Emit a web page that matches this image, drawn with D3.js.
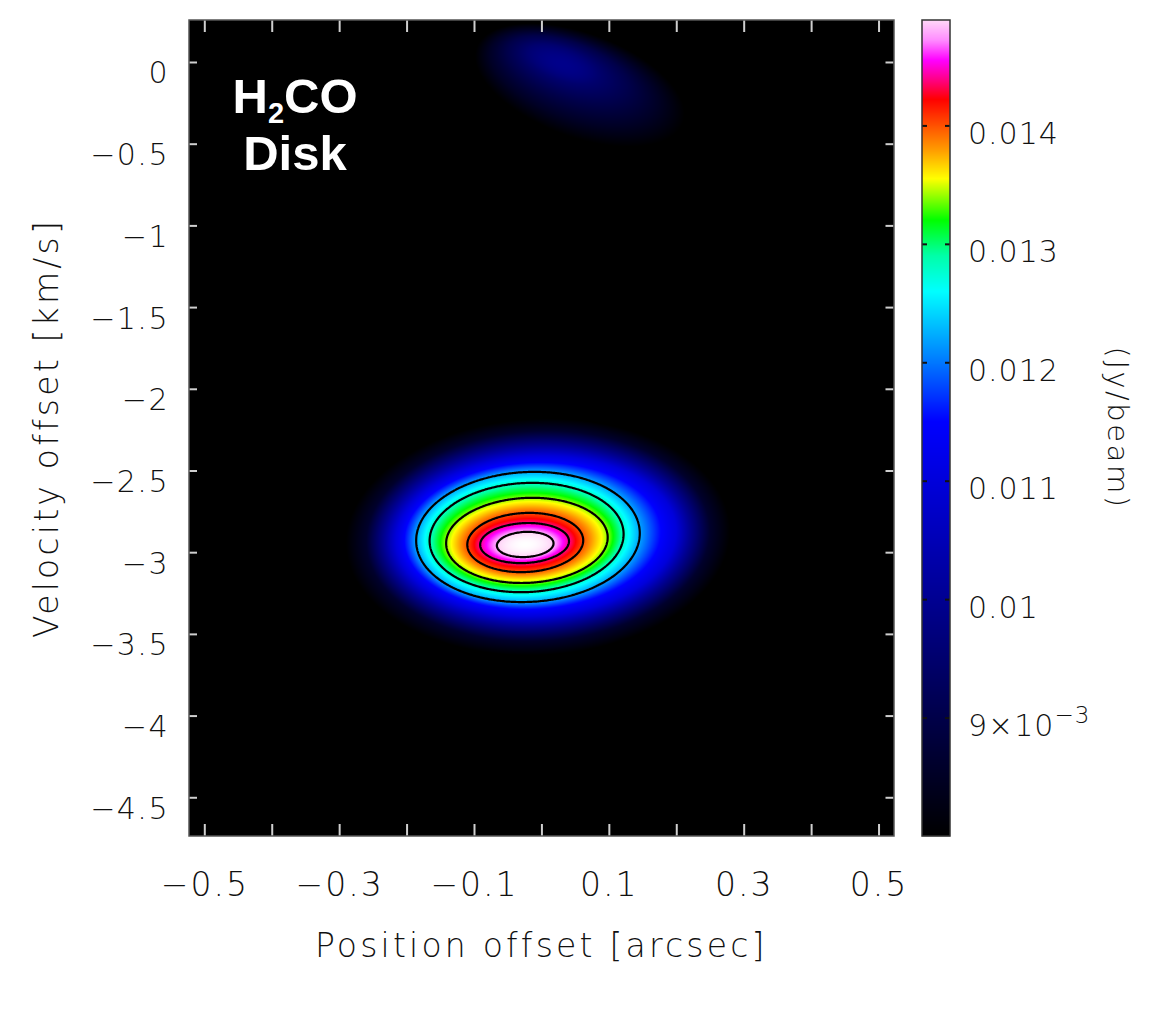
<!DOCTYPE html>
<html>
<head>
<meta charset="utf-8">
<script src="https://cdn.jsdelivr.net/npm/d3@7"></script>
<style>
body { margin: 0; background: #fff; }
</style>
</head>
<body>
<div id="cnt"></div>
<script>
const width = 1157
const height = 1009

// axis ticks
const xTicks = [-0.5, -0.4, -0.3, -0.2, -0.1, 0, 0.1, 0.2, 0.3, 0.4, 0.5]
const xTickLabels = [-0.5, -0.3, -0.1, 0.1, 0.3, 0.5]
const yTicks = [0, -0.5, -1, -1.5, -2, -2.5, -3, -3.5, -4, -4.5]
const cbTicks = [0.009, 0.010, 0.011, 0.012, 0.013, 0.014]
const cbTickLabels = ['9×10', '0.01', '0.011', '0.012', '0.013', '0.014']

// colour table (Jy/beam -> colour)
const cmapValues = [0.0080, 0.0115, 0.0120, 0.0126, 0.0129, 0.0132, 0.01355, 0.0138, 0.01422, 0.01438, 0.01455, 0.01472, 0.01489, 0.0153]
const cmapColors = ['#000000', '#0000ff', '#0078ff', '#00ffff', '#00ffa8', '#00ff00', '#ffff00', '#ff9900', '#ff0000', '#ff0080', '#ff00ff', '#ff8cff', '#ffd8f8', '#ffffff']

// main disk emission: iso-intensity ellipses (outer -> peak)
const diskLevels = [0.0080, 0.0086, 0.0100, 0.0110, 0.0116, 0.0122, 0.0128, 0.0134, 0.0140, 0.0144, 0.0148, 0.0153]
const diskHalfX  = [0.285, 0.255, 0.227, 0.208, 0.187, 0.166, 0.144, 0.120, 0.086, 0.066, 0.042, 0]
const diskHalfV  = [0.722, 0.643, 0.551, 0.490, 0.441, 0.398, 0.334, 0.260, 0.181, 0.122, 0.0765, 0]
const diskCenX   = [-0.005, -0.005, -0.007, -0.008, -0.014, -0.020, -0.022, -0.0215, -0.024, -0.025, -0.024, -0.024]
const diskCenV   = [-2.907, -2.901, -2.901, -2.901, -2.901, -2.907, -2.910, -2.928, -2.941, -2.944, -2.953, -2.956]
const diskTilt = -0.05

// faint blob near 0 km/s
const blobLevels = [0.0080, 0.0085, 0.0090, 0.0095, 0.0099]
const blobHalfX  = [0.163, 0.131, 0.096, 0.056, 0]
const blobHalfV  = [0.318, 0.245, 0.171, 0.098, 0]
const blobCenX   = [0.057, 0.048, 0.040, 0.031, 0.025]
const blobCenV   = [-0.141, -0.098, -0.049, -0.012, 0.0]
const blobTilt = 0.35

const contourLevels = [0.0122, 0.0128, 0.0134, 0.0140, 0.0144, 0.0148]

const plotLeft = 189, plotRight = 893.5, plotTop = 20, plotBottom = 836
const cbLeft = 922, cbRight = 950

const x = d3.scaleLinear().domain([-0.5227, 0.5222]).range([plotLeft, plotRight])
const y = d3.scaleLinear().domain([0.257, -4.737]).range([plotTop, plotBottom])
const cb = d3.scaleLinear().domain([0.008, 0.01489]).range([plotBottom, plotTop])
const color = d3.scaleLinear().domain(cmapValues).range(cmapColors).clamp(true)

const fmt = d => (d < 0 ? '\u2212' : '') + Math.abs(d)
const labelFont = "'DejaVu Sans', sans-serif"

const svg = d3.select('#cnt')
    .append('svg')
    .attr('width', width)
    .attr('height', height)
    .style('display', 'block')

// ---- image ----
function makeComponent(levels, hx, hv, cx, cv, tilt) {
    return levels.map((lv, i) => ({
        v: lv,
        cx: x(cx[i]),
        cy: y(cv[i]),
        ax: x(hx[i]) - x(0),
        ay: y(0) - y(hv[i]),
        r: Math.sqrt((x(hx[i]) - x(0)) * (y(0) - y(hv[i]))),
        cos: Math.cos(tilt),
        sin: Math.sin(tilt)
    }))
}

function fieldAt(comp, px, py) {
    let prevRho = 0, prevR = 0
    for (let i = 0; i < comp.length; i++) {
        const c = comp[i]
        if (c.ax === 0) {
            return comp[i - 1].v + (c.v - comp[i - 1].v) * (1 - prevRho * prevRho)
        }
        const dx = px - c.cx, dy = py - c.cy
        const u = dx * c.cos + dy * c.sin
        const w = -dx * c.sin + dy * c.cos
        const rho = Math.hypot(u / c.ax, w / c.ay)
        if (rho > 1) {
            if (i === 0) return c.v
            const a = (1 - prevRho) * prevR, b = (rho - 1) * c.r
            return comp[i - 1].v + (c.v - comp[i - 1].v) * a / (a + b)
        }
        prevRho = rho
        prevR = c.r
    }
    return comp[comp.length - 1].v
}

const disk = makeComponent(diskLevels, diskHalfX, diskHalfV, diskCenX, diskCenV, diskTilt)
const blob = makeComponent(blobLevels, blobHalfX, blobHalfV, blobCenX, blobCenV, blobTilt)

const imgW = Math.round(plotRight - plotLeft), imgH = plotBottom - plotTop
const values = new Float64Array(imgW * imgH)
for (let j = 0; j < imgH; j++) {
    for (let i = 0; i < imgW; i++) {
        const px = plotLeft + i + 0.5, py = plotTop + j + 0.5
        values[j * imgW + i] = Math.max(fieldAt(disk, px, py), fieldAt(blob, px, py))
    }
}

const canvas = document.createElement('canvas')
canvas.width = imgW
canvas.height = imgH
const ctx = canvas.getContext('2d')
const imgData = ctx.createImageData(imgW, imgH)
for (let k = 0; k < values.length; k++) {
    const c = d3.rgb(color(values[k]))
    imgData.data[k * 4] = c.r
    imgData.data[k * 4 + 1] = c.g
    imgData.data[k * 4 + 2] = c.b
    imgData.data[k * 4 + 3] = 255
}
ctx.putImageData(imgData, 0, 0)

svg.append('image')
    .attr('x', plotLeft)
    .attr('y', plotTop)
    .attr('width', imgW)
    .attr('height', imgH)
    .attr('href', canvas.toDataURL())

// contours
const contours = d3.contours().size([imgW, imgH]).thresholds(contourLevels)(values)
svg.append('g')
    .attr('transform', `translate(${plotLeft},${plotTop})`)
    .selectAll('path')
    .data(contours)
    .join('path')
    .attr('d', d3.geoPath())
    .attr('fill', 'none')
    .attr('stroke', '#000')
    .attr('stroke-width', 2.2)

// ---- axes ----
function styleAxis(size, spacing) {
    return g => {
        g.select('.domain').remove()
        g.selectAll('.tick line').attr('stroke', '#cfcfcf').attr('stroke-width', 2)
        g.selectAll('.tick text')
            .attr('fill', '#111')
            .style('font-family', labelFont)
            .style('font-size', size + 'px')
            .style('font-weight', 200)
            .style('letter-spacing', spacing + 'px')
    }
}

svg.append('g')
    .attr('transform', `translate(0,${plotBottom})`)
    .call(d3.axisBottom(x).tickValues(xTicks).tickSizeInner(-12).tickSizeOuter(0).tickPadding(37)
        .tickFormat(d => xTickLabels.includes(d) ? fmt(d) : ''))
    .call(styleAxis(33, 2))

svg.append('g')
    .attr('transform', `translate(0,${plotTop})`)
    .call(d3.axisTop(x).tickValues(xTicks).tickSizeInner(-12).tickSizeOuter(0).tickFormat(''))
    .call(styleAxis(33, 2))

svg.append('g')
    .attr('transform', `translate(${plotLeft},0)`)
    .call(d3.axisLeft(y).tickValues(yTicks).tickSizeInner(-8).tickSizeOuter(0).tickPadding(20).tickFormat(fmt))
    .call(styleAxis(30, 1.5))
    .call(g => g.selectAll('.tick text').attr('dy', '0.7em'))

svg.append('g')
    .attr('transform', `translate(${plotRight},0)`)
    .call(d3.axisRight(y).tickValues(yTicks).tickSizeInner(-8).tickSizeOuter(0).tickFormat(''))
    .call(styleAxis(30, 1.5))

svg.append('rect')
    .attr('x', plotLeft)
    .attr('y', plotTop)
    .attr('width', imgW)
    .attr('height', imgH)
    .attr('fill', 'none')
    .attr('stroke', '#555')
    .attr('stroke-width', 1.5)

// ---- colour bar ----
const cbRows = d3.range(plotTop, plotBottom)
svg.append('g')
    .selectAll('rect')
    .data(cbRows)
    .join('rect')
    .attr('x', cbLeft)
    .attr('y', d => d)
    .attr('width', cbRight - cbLeft)
    .attr('height', 1.2)
    .attr('fill', d => color(cb.invert(d + 0.5)))

const cbAxis = svg.append('g')
    .attr('transform', `translate(${cbRight},0)`)
    .call(d3.axisRight(cb).tickValues(cbTicks).tickSizeInner(-5).tickSizeOuter(0).tickPadding(18)
        .tickFormat((d, i) => cbTickLabels[i]))
    .call(styleAxis(30, 1))
    .call(g => g.selectAll('.tick line').attr('stroke', '#111'))
    .call(g => g.selectAll('.tick text').attr('dy', '0.6em'))

// exponent on the 9x10^-3 label
cbAxis.selectAll('.tick text').filter(d => d === 0.009)
    .append('tspan')
    .attr('dy', '-0.55em')
    .style('font-size', '23px')
    .text('\u22123')

svg.append('g')
    .attr('transform', `translate(${cbLeft},0)`)
    .call(d3.axisLeft(cb).tickValues(cbTicks).tickSizeInner(-5).tickSizeOuter(0).tickFormat(''))
    .call(styleAxis(30, 1))
    .call(g => g.selectAll('.tick line').attr('stroke', '#111'))

svg.append('rect')
    .attr('x', cbLeft)
    .attr('y', plotTop)
    .attr('width', cbRight - cbLeft)
    .attr('height', imgH)
    .attr('fill', 'none')
    .attr('stroke', '#333')
    .attr('stroke-width', 1.5)

// ---- titles ----
const titleStyle = t => t
    .attr('fill', '#111')
    .attr('text-anchor', 'middle')
    .style('font-family', labelFont)
    .style('font-size', '33px')
    .style('font-weight', 200)
    .style('letter-spacing', '3.2px')

svg.append('text')
    .attr('x', (plotLeft + plotRight) / 2)
    .attr('y', 957)
    .text('Position offset [arcsec]')
    .call(titleStyle)

svg.append('text')
    .attr('transform', 'translate(58,428) rotate(-90)')
    .text('Velocity offset [km/s]')
    .call(titleStyle)

svg.append('text')
    .attr('transform', 'translate(1108,428) rotate(90)')
    .text('(Jy/beam)')
    .call(titleStyle)
    .style('font-size', '29px')
    .style('letter-spacing', '2.5px')

// ---- annotation ----
const note = svg.append('g')
    .attr('fill', '#fff')
    .attr('text-anchor', 'middle')
    .style('font-family', "'Liberation Sans', Arial, sans-serif")
    .style('font-weight', 'bold')
    .style('font-size', '49px')

const h2co = note.append('text').attr('x', 295).attr('y', 113)
h2co.append('tspan').text('H')
h2co.append('tspan').attr('dy', 10).style('font-size', '29px').text('2')
h2co.append('tspan').attr('dy', -10).text('CO')

note.append('text').attr('x', 295).attr('y', 170).text('Disk')
</script>
</body>
</html>
